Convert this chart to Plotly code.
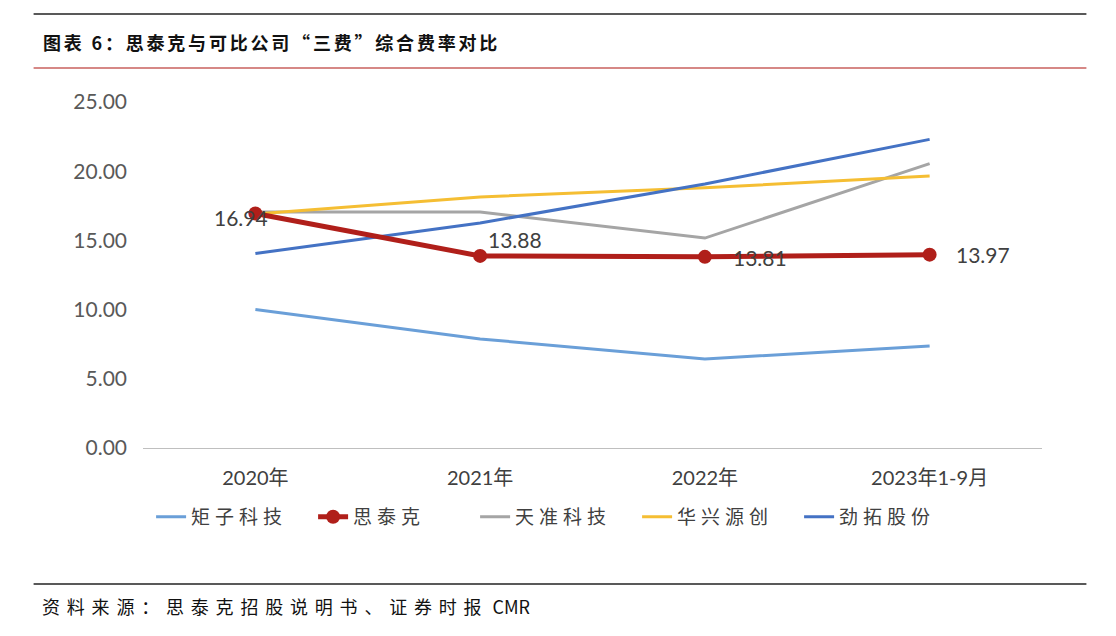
import plotly.graph_objects as go

years = ["2020年", "2021年", "2022年", "2023年1-9月"]
juzi = [10.0, 7.88, 6.43, 7.37]
sitaike = [16.94, 13.88, 13.81, 13.97]
tianzhun = [17.05, 17.05, 15.17, 20.55]
huaxing = [16.9, 18.14, 18.8, 19.65]
jintuo = [14.05, 16.26, 19.08, 22.3]

cjk = "Noto Sans CJK SC"
num = "Lato"


def spaced(s, px):
    return f'<span style="letter-spacing:{px}px">{s}</span>'


fig = go.Figure()
fig.add_trace(go.Scatter(x=years, y=juzi, name=spaced("矩子科技", 5), mode="lines",
                         line=dict(color="#6a9fd8", width=3), legendrank=1))
fig.add_trace(go.Scatter(x=years, y=tianzhun, name=spaced("天准科技", 5), mode="lines",
                         line=dict(color="#a5a5a5", width=3), legendrank=3))
fig.add_trace(go.Scatter(x=years, y=huaxing, name=spaced("华兴源创", 5), mode="lines",
                         line=dict(color="#f5be33", width=3), legendrank=4))
fig.add_trace(go.Scatter(x=years, y=jintuo, name=spaced("劲拓股份", 5), mode="lines",
                         line=dict(color="#4472c4", width=3), legendrank=5))
fig.add_trace(go.Scatter(x=years, y=sitaike, name=spaced("思泰克", 5), mode="lines+markers",
                         line=dict(color="#b01f1a", width=5),
                         marker=dict(size=14, color="#b01f1a"), legendrank=2))

# data labels for 思泰克, nudged like the Excel original
shifts = [(-14, -4), (35, 16), (55, -1), (53, 0)]
for yr, v, (dx, dy) in zip(years, sitaike, shifts):
    fig.add_annotation(x=yr, y=v, text=f"{v:.2f}", showarrow=False,
                       xshift=dx, yshift=dy,
                       font=dict(family=num, size=21, color="#404040"))

fig.update_layout(
    width=1108, height=628,
    margin=dict(l=134.5, r=73.5, t=94, b=188),
    paper_bgcolor="white", plot_bgcolor="white",
    showlegend=True,
    legend=dict(orientation="h", x=0.009, xanchor="left", y=-0.199, yanchor="middle",
                bgcolor="rgba(0,0,0,0)", entrywidth=117, entrywidthmode="pixels",
                font=dict(family=cjk, size=19, color="#404040")),
    xaxis=dict(range=[-0.5, 3.5], showgrid=False, showline=True, linecolor="#bfbfbf",
               linewidth=1, ticks="", ticklabelstandoff=12,
               tickfont=dict(family=num + ", " + cjk, size=20, color="#404040")),
    yaxis=dict(range=[0, 25], dtick=5, tickformat=".2f", showgrid=False,
               zeroline=False, showline=False, ticks="",
               tickfont=dict(family=num, size=21, color="#595959"), ticklabelstandoff=15),
)

x0, x1 = -0.1217, 1.0494
fig.add_shape(type="line", xref="paper", yref="paper", x0=x0, x1=x1, y0=1.254, y1=1.254,
              line=dict(color="#222222", width=1.5))
fig.add_shape(type="line", xref="paper", yref="paper", x0=x0, x1=x1, y0=1.098, y1=1.098,
              line=dict(color="#c9605e", width=1.5))
fig.add_shape(type="line", xref="paper", yref="paper", x0=x0, x1=x1, y0=-0.393, y1=-0.393,
              line=dict(color="#222222", width=1.5))
fig.add_annotation(text=spaced("<b>图表 6：思泰克与可比公司“三费”综合费率对比</b>", 2.8),
                   xref="paper", yref="paper",
                   x=-0.113, y=1.173, xanchor="left", yanchor="middle", showarrow=False,
                   font=dict(family=cjk, size=18, color="#111111"))
fig.add_annotation(text=spaced("资料来源：思泰克招股说明书、证券时报", 6.8) + " CMR",
                   xref="paper", yref="paper",
                   x=-0.115, y=-0.457, xanchor="left", yanchor="middle", showarrow=False,
                   font=dict(family=cjk, size=18, color="#111111"))

fig.write_html("out.html")
